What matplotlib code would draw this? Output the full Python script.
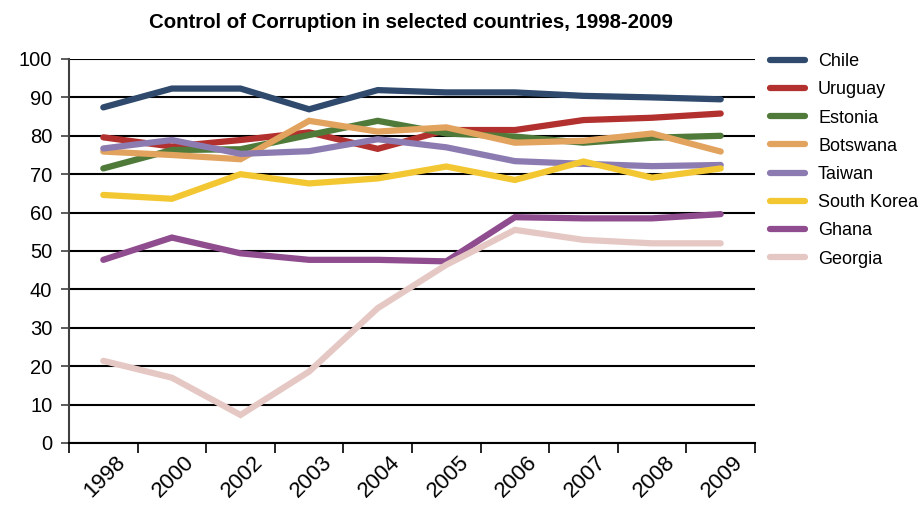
import matplotlib
matplotlib.use("Agg")
import matplotlib.pyplot as plt
from matplotlib.lines import Line2D
import matplotlib.transforms as mtrans

years = ["1998", "2000", "2002", "2003", "2004", "2005", "2006", "2007", "2008", "2009"]
chile = [87.4, 92.3, 92.3, 86.9, 91.9, 91.3, 91.3, 90.4, 90.0, 89.5]
uruguay = [79.6, 77.2, 78.9, 80.9, 76.6, 81.5, 81.5, 84.1, 84.7, 85.8]
estonia = [71.5, 76.3, 76.5, 80.2, 83.9, 80.6, 79.8, 78.2, 79.5, 80.0]
botswana = [75.9, 75.0, 73.9, 83.9, 81.1, 82.2, 78.2, 78.7, 80.6, 75.9]
taiwan = [76.7, 78.9, 75.3, 76.0, 79.1, 77.0, 73.4, 72.7, 72.1, 72.4]
south_korea = [64.6, 63.6, 70.0, 67.6, 68.9, 72.0, 68.5, 73.3, 69.1, 71.5]
ghana = [47.7, 53.5, 49.4, 47.7, 47.7, 47.3, 58.8, 58.5, 58.5, 59.6]
georgia = [21.4, 17.0, 7.3, 18.6, 35.1, 46.4, 55.5, 52.9, 52.0, 52.0]

names = ["Chile", "Uruguay", "Estonia", "Botswana", "Taiwan", "South Korea", "Ghana", "Georgia"]
series = [chile, uruguay, estonia, botswana, taiwan, south_korea, ghana, georgia]
colors = ["#2F4A6D", "#B2302E", "#4F7A3A", "#E2A35E", "#8C7BB1", "#F3C731", "#8F4C8E", "#E5C8C4"]

plt.rcParams['font.family'] = ['Liberation Sans', 'DejaVu Sans']

fig = plt.figure(figsize=(9.24, 5.05), dpi=100)
ax = fig.add_axes([69/924, 1-443/505, (755-69)/924, (443-59)/505])

x = list(range(len(years)))
for vals, c, n in zip(series, colors, names):
    ax.plot(x, vals, color=c, lw=4.5, solid_capstyle='round', solid_joinstyle='miter', label=n, zorder=3)

ax.set_xlim(-0.5, len(years) - 0.5)
ax.set_ylim(0, 100)
ax.set_yticks(range(0, 101, 10))
ax.yaxis.grid(True, color='black', lw=1.5, zorder=1)
ax.set_axisbelow(True)
for s in ['top', 'right']:
    ax.spines[s].set_visible(False)
ax.spines['left'].set_color('#404040')
ax.spines['left'].set_linewidth(1.5)
ax.spines['bottom'].set_color('black')
ax.spines['bottom'].set_linewidth(1.5)

ax.set_xticks([i - 0.5 for i in range(len(years) + 1)])
ax.set_xticklabels([])
ax.set_xticks(x, minor=True)
ax.set_xticklabels(years, minor=True, rotation=45, ha='right', va='top', fontsize=16, rotation_mode='anchor')
ax.tick_params(axis='x', which='major', length=7, width=1.2, color='black', direction='out')
ax.tick_params(axis='x', which='minor', length=0, pad=6)
ax.tick_params(axis='y', length=6, width=1.2, color='#404040', labelsize=14.5, pad=6)
offset = mtrans.ScaledTranslation(12/100, 0, fig.dpi_scale_trans)
for lbl in ax.xaxis.get_minorticklabels():
    lbl.set_transform(lbl.get_transform() + offset)

fig.text(0.445, 0.955, "Control of Corruption in selected countries, 1998-2009",
         ha='center', va='center', fontsize=14.7, fontweight='bold')

handles = [Line2D([0], [0], color=c, lw=4.5, solid_capstyle='round') for c in colors]
leg = fig.legend(handles, names, loc='upper left', bbox_to_anchor=(763/924, 1-46/505),
                 frameon=False, fontsize=13, handlelength=1.9, handletextpad=0.75,
                 labelspacing=0.62, borderaxespad=0)

fig.savefig("out.png", dpi=100)
